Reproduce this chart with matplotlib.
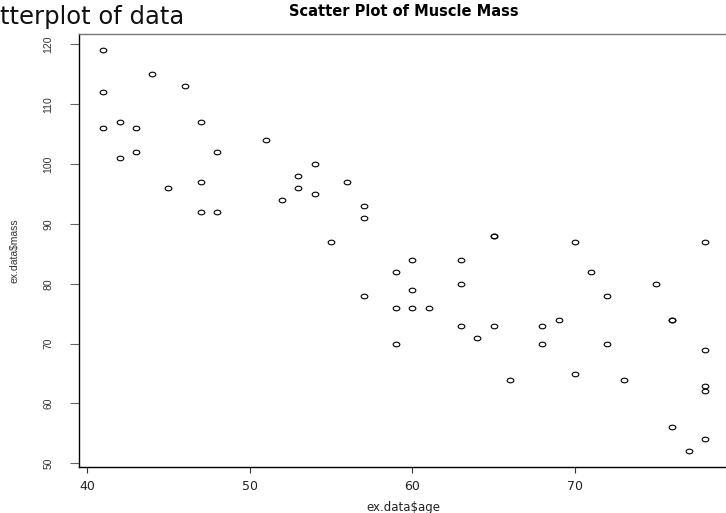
import matplotlib
matplotlib.use("Agg")
import matplotlib.pyplot as plt
import matplotlib.transforms as mtransforms
from matplotlib.path import Path
import numpy as np

# muscle mass data
age = [41, 41, 44, 46, 42, 47, 41, 43, 43, 48, 42, 45, 47, 47, 48,
       51, 54, 53, 53, 54, 56, 52, 57, 57, 55, 65, 65, 60, 63, 59,
       63, 60, 57, 59, 60, 61, 63, 65, 64, 59,
       71, 75, 72, 76, 76, 68, 69, 68, 72, 78, 66, 70, 73, 78, 78,
       76, 78, 77, 70, 78]
mass = [119, 112, 115, 113, 107, 107, 106, 106, 102, 102, 101, 96, 97, 92, 92,
        104, 100, 98, 96, 95, 97, 94, 93, 91, 87, 88, 88, 84, 84, 82,
        80, 79, 78, 76, 76, 76, 73, 73, 71, 70,
        82, 80, 78, 74, 74, 73, 74, 70, 70, 69, 64, 65, 64, 63, 62,
        56, 54, 52, 87, 87]

x_ticks = [40, 50, 60, 70]
y_ticks = [50, 60, 70, 80, 90, 100, 110, 120]

title = "Scatter Plot of Muscle Mass"
x_label = "ex.data$age"
y_label = "ex.data$mass"
stray_text = "tterplot of data"

# R-like open circle, squashed a bit as in the reference
ell = Path.unit_circle().transformed(mtransforms.Affine2D().scale(1.45, 1.0))

fig = plt.figure(figsize=(7.26, 5.13), dpi=100)
ax = fig.add_axes([79.3 / 726, 1 - 467.4 / 513, (729 - 79.3) / 726, (467.4 - 34.2) / 513])

ax.plot(age, mass, linestyle="none", marker=ell, markersize=4.8,
        markerfacecolor="none", markeredgecolor="black", markeredgewidth=0.8)

# R default 4% padding
xr = max(age) - min(age)
yr = max(mass) - min(mass)
ax.set_xlim(min(age) - 0.04 * xr, max(age) + 0.04 * xr)
ax.set_ylim(min(mass) - 0.04 * yr, max(mass) + 0.04 * yr)

ax.set_xticks(x_ticks)
ax.set_yticks(y_ticks)
ax.set_xticklabels([str(v) for v in x_ticks], family="DejaVu Sans", fontsize=9, color="#222222")
ax.set_yticklabels([str(v) for v in y_ticks], family=["Liberation Sans Narrow", "Liberation Sans"],
                   fontsize=7.5, rotation=90, va="center", color="#333333")
ax.tick_params(axis="x", length=4.3, width=0.8, pad=5, color="#333333")
ax.tick_params(axis="y", length=6.5, width=0.8, pad=12, color="#666666")

ax.spines["left"].set_linewidth(1.0)
ax.spines["bottom"].set_linewidth(1.0)
ax.spines["top"].set_color("#777777")
ax.spines["top"].set_linewidth(1.0)
ax.spines["right"].set_color("#777777")

fig.text(404 / 726, 1 - 12 / 513, title, ha="center", va="center",
         family="DejaVu Sans", fontweight="bold", fontsize=10.5)
fig.text(403 / 726, 1 - 507 / 513, x_label, ha="center", va="center",
         family="DejaVu Sans", fontsize=8.5, color="#222222")
fig.text(14.5 / 726, 1 - 251 / 513, y_label, ha="center", va="center", rotation=90,
         family=["Liberation Sans Narrow", "Liberation Sans"], fontsize=7.5, color="#333333")
fig.text(0, 1 - 17 / 513, stray_text, ha="left", va="center",
         family="DejaVu Sans", fontsize=17.5, color="#111111")

fig.savefig("out.png", dpi=100)
